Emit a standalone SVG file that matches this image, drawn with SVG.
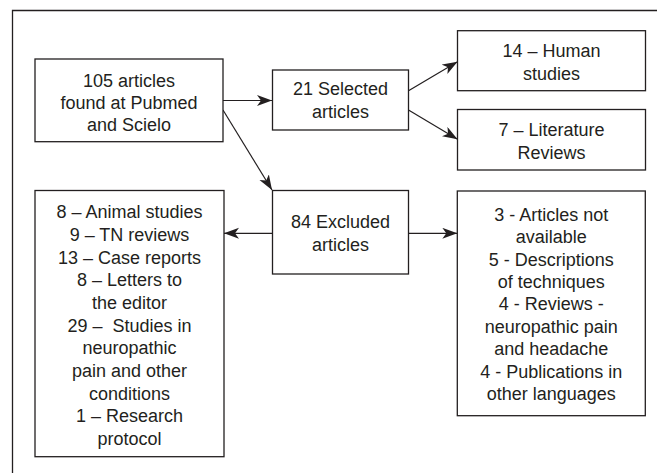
<svg xmlns="http://www.w3.org/2000/svg" width="657" height="473" viewBox="0 0 657 473">
  <style>
    .box { fill: #ffffff; stroke: #231f20; stroke-width: 1.3; }
    .frame { fill: none; stroke: #231f20; stroke-width: 1.3; }
    .conn { fill: none; stroke: #231f20; stroke-width: 1.2; }
    text { font-family: "Liberation Sans", Arial, sans-serif; font-size: 18px; fill: #231f20; text-anchor: middle; }
  </style>
  <defs>
    <marker id="arrow" markerUnits="userSpaceOnUse" markerWidth="16" markerHeight="12" refX="15" refY="5.5" orient="auto">
      <path d="M0,0 L15,5.5 L0,11 L4,5.5 Z" fill="#231f20"/>
    </marker>
  </defs>
  <rect width="657" height="473" fill="#ffffff"/>
  <path class="frame" d="M12.5,473 V10.5 H657"/>

  <g id="connectors">
    <line class="conn" x1="223" y1="100.5" x2="272" y2="100.5" marker-end="url(#arrow)"/>
    <line class="conn" x1="223" y1="110" x2="272" y2="190" marker-end="url(#arrow)"/>
    <line class="conn" x1="408.5" y1="90.7" x2="457.5" y2="61.7" marker-end="url(#arrow)"/>
    <line class="conn" x1="408.5" y1="110" x2="457.5" y2="139.3" marker-end="url(#arrow)"/>
    <line class="conn" x1="272.5" y1="233.3" x2="224" y2="233.3" marker-end="url(#arrow)"/>
    <line class="conn" x1="408.5" y1="233.3" x2="457.3" y2="233.3" marker-end="url(#arrow)"/>
  </g>

  <g id="found">
    <rect class="box" x="35" y="59" width="188" height="82.7"/>
    <text x="129" y="86.5">105 articles</text>
    <text x="129" y="108.5">found at Pubmed</text>
    <text x="129" y="130.5">and Scielo</text>
  </g>

  <g id="selected">
    <rect class="box" x="272.5" y="70" width="136" height="60"/>
    <text x="340.5" y="95">21 Selected</text>
    <text x="340.5" y="117.5">articles</text>
  </g>

  <g id="human">
    <rect class="box" x="457.5" y="30.7" width="188" height="60"/>
    <text x="551.5" y="57">14 – Human</text>
    <text x="551.5" y="79.5">studies</text>
  </g>

  <g id="literature">
    <rect class="box" x="457.5" y="109.5" width="188" height="60.5"/>
    <text x="551.5" y="136">7 – Literature</text>
    <text x="551.5" y="158.5">Reviews</text>
  </g>

  <g id="excluded">
    <rect class="box" x="272.5" y="190.5" width="136" height="83.5"/>
    <text x="340.5" y="228">84 Excluded</text>
    <text x="340.5" y="250.5">articles</text>
  </g>

  <g id="excluded-left">
    <rect class="box" x="35" y="190.5" width="189" height="266.2"/>
    <text x="129.5" y="218.3">8 – Animal studies</text>
    <text x="129.5" y="241">9 – TN reviews</text>
    <text x="129.5" y="263.7">13 – Case reports</text>
    <text x="129.5" y="286.3">8 – Letters to</text>
    <text x="129.5" y="309">the editor</text>
    <text x="129.5" y="331.7" xml:space="preserve">29 –  Studies in</text>
    <text x="129.5" y="354.3">neuropathic</text>
    <text x="129.5" y="377">pain and other</text>
    <text x="129.5" y="399.5">conditions</text>
    <text x="129.5" y="422">1 – Research</text>
    <text x="129.5" y="444.5">protocol</text>
  </g>

  <g id="excluded-right">
    <rect class="box" x="457.3" y="191" width="188" height="224.7"/>
    <text x="551.3" y="221">3 - Articles not</text>
    <text x="551.3" y="243.3">available</text>
    <text x="551.3" y="265.7">5 - Descriptions</text>
    <text x="551.3" y="288">of techniques</text>
    <text x="551.3" y="310.3">4 - Reviews -</text>
    <text x="551.3" y="332.7">neuropathic pain</text>
    <text x="551.3" y="355">and headache</text>
    <text x="551.3" y="377.5">4 - Publications in</text>
    <text x="551.3" y="400">other languages</text>
  </g>
</svg>
